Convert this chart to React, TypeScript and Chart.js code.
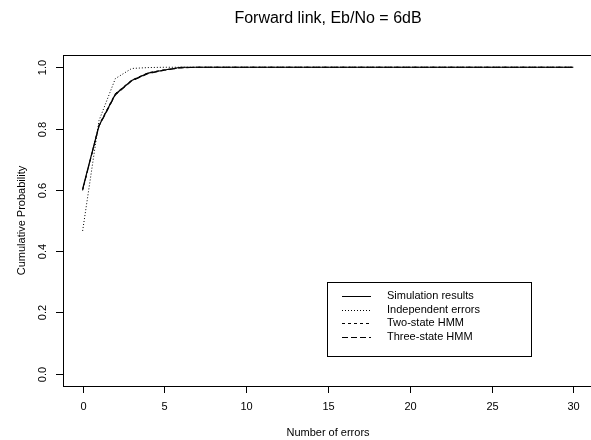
import React, { useEffect, useRef } from "react";
import { Chart, registerables } from "chart.js";

Chart.register(...registerables);

const TITLE = "Forward link, Eb/No = 6dB";
const X_TITLE = "Number of errors";
const Y_TITLE = "Cumulative Probability";

const errors = [0, 1, 2, 3, 4, 5, 6, 7, 8, 9, 10, 11, 12, 13, 14, 15, 16, 17, 18, 19, 20, 21, 22, 23, 24, 25, 26, 27, 28, 29, 30];

const simulation = [0.603, 0.809, 0.912, 0.957, 0.981, 0.991, 1.0, 1.0, 1.0, 1.0, 1.0, 1.0, 1.0, 1.0, 1.0, 1.0, 1.0, 1.0, 1.0, 1.0, 1.0, 1.0, 1.0, 1.0, 1.0, 1.0, 1.0, 1.0, 1.0, 1.0, 1.0];
const independent = [0.466, 0.826, 0.963, 0.996, 0.999, 1.0, 1.0, 1.0, 1.0, 1.0, 1.0, 1.0, 1.0, 1.0, 1.0, 1.0, 1.0, 1.0, 1.0, 1.0, 1.0, 1.0, 1.0, 1.0, 1.0, 1.0, 1.0, 1.0, 1.0, 1.0, 1.0];
const twoState = [0.598, 0.812, 0.914, 0.958, 0.982, 0.992, 0.998, 1.0, 1.0, 1.0, 1.0, 1.0, 1.0, 1.0, 1.0, 1.0, 1.0, 1.0, 1.0, 1.0, 1.0, 1.0, 1.0, 1.0, 1.0, 1.0, 1.0, 1.0, 1.0, 1.0, 1.0];
const threeState = [0.6, 0.807, 0.909, 0.955, 0.979, 0.99, 0.998, 1.0, 1.0, 1.0, 1.0, 1.0, 1.0, 1.0, 1.0, 1.0, 1.0, 1.0, 1.0, 1.0, 1.0, 1.0, 1.0, 1.0, 1.0, 1.0, 1.0, 1.0, 1.0, 1.0, 1.0];

const xTicks = [0, 5, 10, 15, 20, 25, 30];
const yTicks = [0, 0.2, 0.4, 0.6, 0.8, 1.0];
const yTickLabels = ["0.0", "0.2", "0.4", "0.6", "0.8", "1.0"];

const legendLabels = ["Simulation results", "Independent errors", "Two-state HMM", "Three-state HMM"];
const legendDashes: number[][] = [[], [1, 2], [3, 3], [6, 3]];

const FONT = "'Liberation Sans', Arial, sans-serif";

const toPoints = (ys: number[]) => errors.map((x, i) => ({ x, y: ys[i] }));

const rPlugin = {
  id: "rStyle",
  afterDraw(chart: any) {
    const { ctx, chartArea: a, scales } = chart;
    const xs = scales.x;
    const ys = scales.y;
    ctx.save();
    ctx.strokeStyle = "#000";
    ctx.fillStyle = "#000";
    ctx.lineWidth = 1;
    ctx.setLineDash([]);
    // box
    ctx.strokeRect(Math.round(a.left) + 0.5, Math.round(a.top) + 0.5, Math.round(a.right - a.left), Math.round(a.bottom - a.top));
    // x ticks
    ctx.font = `11px ${FONT}`;
    ctx.textAlign = "center";
    ctx.textBaseline = "middle";
    xTicks.forEach((v) => {
      const px = Math.round(xs.getPixelForValue(v)) + 0.5;
      ctx.beginPath();
      ctx.moveTo(px, a.bottom);
      ctx.lineTo(px, a.bottom + 7);
      ctx.stroke();
      ctx.fillText(String(v), px, a.bottom + 21);
    });
    // y ticks
    yTicks.forEach((v, i) => {
      const py = Math.round(ys.getPixelForValue(v)) + 0.5;
      ctx.beginPath();
      ctx.moveTo(a.left - 7, py);
      ctx.lineTo(a.left, py);
      ctx.stroke();
      ctx.save();
      ctx.translate(a.left - 20, py);
      ctx.rotate(-Math.PI / 2);
      ctx.fillText(yTickLabels[i], 0, 0);
      ctx.restore();
    });
    // axis titles
    const cx = (a.left + a.right) / 2;
    ctx.fillText(X_TITLE, cx, a.bottom + 47);
    ctx.save();
    ctx.translate(a.left - 41, (a.top + a.bottom) / 2);
    ctx.rotate(-Math.PI / 2);
    ctx.fillText(Y_TITLE, 0, 0);
    ctx.restore();
    // main title
    ctx.font = `16px ${FONT}`;
    ctx.fillText(TITLE, cx, 18.5);
    // legend
    const lx = 327.5, ly = 282.5, lw = 204, lh = 74;
    ctx.strokeRect(lx, ly, lw, lh);
    ctx.font = `11px ${FONT}`;
    ctx.textAlign = "left";
    legendLabels.forEach((lab, i) => {
      const yy = 296 + i * 13.6;
      ctx.setLineDash(legendDashes[i]);
      ctx.beginPath();
      ctx.moveTo(342, Math.round(yy) + 0.5);
      ctx.lineTo(371, Math.round(yy) + 0.5);
      ctx.stroke();
      ctx.setLineDash([]);
      ctx.fillText(lab, 387, yy);
    });
    ctx.restore();
  },
};

export default function App() {
  const ref = useRef<HTMLCanvasElement | null>(null);
  useEffect(() => {
    if (!ref.current) return;
    const mk = (label: string, ys: number[], dash: number[], w: number) => ({
      label,
      data: toPoints(ys),
      borderColor: "#000",
      borderWidth: w,
      borderDash: dash,
      pointRadius: 0,
      fill: false,
      tension: 0,
    });
    const chart = new Chart(ref.current, {
      type: "line",
      data: {
        datasets: [
          mk(legendLabels[0], simulation, legendDashes[0], 1.2),
          mk(legendLabels[1], independent, legendDashes[1], 1),
          mk(legendLabels[2], twoState, legendDashes[2], 1),
          mk(legendLabels[3], threeState, legendDashes[3], 1),
        ],
      },
      options: {
        animation: false,
        responsive: false,
        devicePixelRatio: 1,
        layout: { padding: { left: 63, top: 55, right: 612 - 593, bottom: 440 - 386 } },
        plugins: { legend: { display: false }, tooltip: { enabled: false }, title: { display: false } },
        scales: {
          x: { type: "linear", min: -1.2, max: 31.2, display: false },
          y: { type: "linear", min: -0.04, max: 1.04, display: false },
        },
      },
      plugins: [rPlugin],
    });
    return () => chart.destroy();
  }, []);
  return (
    <div style={{ position: "absolute", left: 0, top: 0, width: 591, height: 440, overflow: "hidden", background: "#fff" }}>
      <canvas ref={ref} width={612} height={440} style={{ display: "block" }} />
    </div>
  );
}
